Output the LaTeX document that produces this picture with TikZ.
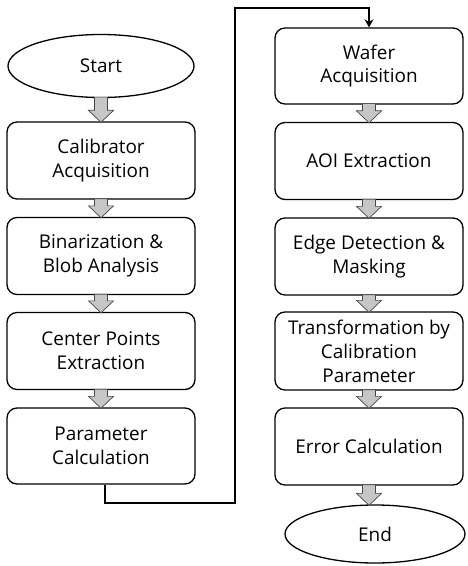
\documentclass[tikz,border=0pt]{standalone}
\usepackage{fontspec}
\setmainfont{Open Sans}
\usetikzlibrary{shapes.geometric,calc,arrows.meta}
\begin{document}
\begin{tikzpicture}[x=1bp,y=-1bp,
  every node/.style={font=\fontsize{19}{24}\selectfont},
  procbox/.style={draw=black, line width=1.3bp, rounded corners=10bp,
    minimum width=188bp, align=center, inner sep=0pt},
  term/.style={draw=black, line width=1.3bp, ellipse, inner sep=0pt},
  fatarrow/.style={draw=gray!55!black, fill=gray!45, line width=0.7bp,
    to path={let \p1=(\tikztostart), \p2=(\tikztotarget) in
      (\x1-6.5bp,\y1+1bp) -- (\x1+6.5bp,\y1+1bp) -- (\x1+6.5bp,\y2+11bp)
      -- (\x1+12.5bp,\y2+11bp) -- (\x1,\y2-1bp) -- (\x1-12.5bp,\y2+11bp)
      -- (\x1-6.5bp,\y2+11bp) -- cycle}},
  conn/.style={line width=2.8bp, black, -{Stealth[length=8bp,width=9bp]}}]
\useasboundingbox (0,0) rectangle (468,566);
% left column
\node[term, minimum width=186bp, minimum height=63bp] (start) at (101,66) {Start};
\node[procbox, minimum height=77bp] (calib) at (101,160.5) {Calibrator\\Acquisition};
\node[procbox, minimum height=77bp] (bin) at (101,256) {Binarization \&\\Blob Analysis};
\node[procbox, minimum height=77bp] (center) at (101,351) {Center Points\\Extraction};
\node[procbox, minimum height=76bp] (param) at (101,446) {Parameter\\Calculation};
% right column
\node[procbox, minimum height=76bp] (wafer) at (369,66) {Wafer\\Acquisition};
\node[procbox, minimum height=77bp] (aoi) at (369,161) {AOI Extraction};
\node[procbox, minimum height=77bp] (edge) at (369,256.5) {Edge Detection \&\\Masking};
\node[procbox, minimum height=78bp] (trans) at (369,351) {Transformation by\\Calibration\\Parameter};
\node[procbox, minimum height=77bp] (err) at (369,446.5) {Error Calculation};
\node[term, minimum width=180bp, minimum height=58bp] (end) at (375,534) {End};
% block arrows
\foreach \a/\b in {start/calib, calib/bin, bin/center, center/param,
                   wafer/aoi, aoi/edge, edge/trans, trans/err}
  \draw[fatarrow] (\a.south) to (\b.north);
\draw[fatarrow] (err.south) to (err.south |- end.north);
% long connector
\coordinate (c1) at (235,503);
\coordinate (c2) at (235,8);
\draw[conn] ([xshift=4bp]param.south) |- (c1) -- (c2) -| (wafer.north);
\end{tikzpicture}
\end{document}
